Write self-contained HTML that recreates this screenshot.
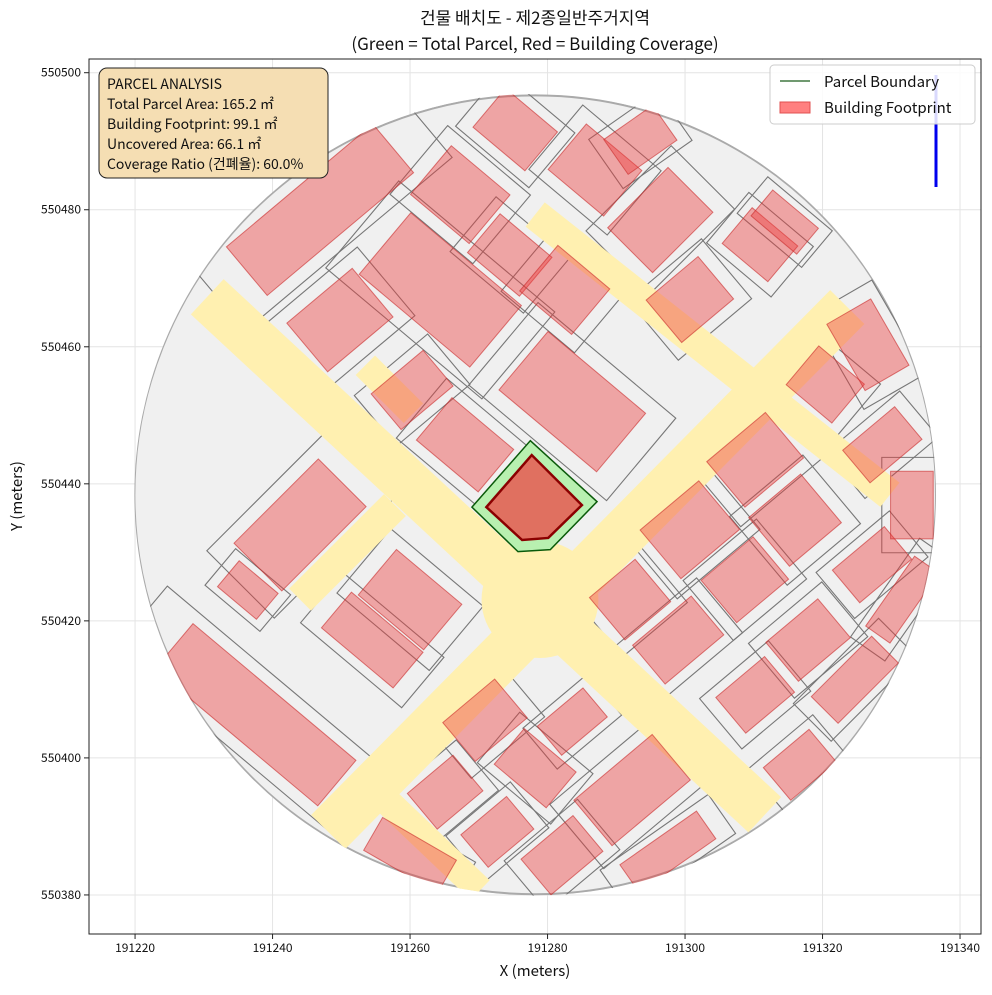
<!DOCTYPE html>
<html><head><meta charset="utf-8"><style>
body{margin:0;background:#fff;font-family:"Noto Sans CJK KR","Liberation Sans",sans-serif;}
svg text{font-family:"Noto Sans CJK KR","Liberation Sans",sans-serif;}
</style></head><body>
<svg id="c" width="992" height="990" xmlns="http://www.w3.org/2000/svg">
<defs><clipPath id="cc"><circle id="cc-c" cx="0" cy="0" r="0"/></clipPath></defs>
<rect x="0" y="0" width="992" height="990" fill="#fff"/>
<text x="535" y="24" text-anchor="middle" font-size="17" fill="#111">건물 배치도 - 제2종일반주거지역</text>
<text x="535" y="50" text-anchor="middle" font-size="17" fill="#111">(Green = Total Parcel, Red = Building Coverage)</text>
<g id="grid"></g><g id="site" clip-path="url(#cc)"></g><g id="center"></g>
<rect x="89" y="59" width="892" height="875" fill="none" stroke="#222" stroke-width="1"/>
<g id="ticks"></g>
<text x="535" y="976" text-anchor="middle" font-size="15" fill="#111">X (meters)</text>
<text transform="translate(22,496) rotate(-90)" text-anchor="middle" font-size="15" fill="#111">Y (meters)</text>
<line x1="936" y1="75" x2="936" y2="187" stroke="#0000ee" stroke-width="3"/>
<g>
<rect x="770" y="65" width="205" height="59" rx="4" fill="#fff" fill-opacity="0.85" stroke="#ccc"/>
<line x1="780" y1="81" x2="810" y2="81" stroke="#1a5c1a" stroke-width="1.3"/>
<text x="824" y="87" font-size="15" fill="#111">Parcel Boundary</text>
<rect x="780" y="102" width="30" height="11" fill="#ff8080" stroke="#e05050"/>
<text x="824" y="113" font-size="15" fill="#111">Building Footprint</text>
</g>
<g>
<rect x="99" y="68" width="229" height="110" rx="8" fill="#f5deb3" stroke="#222" stroke-width="1"/>
<text x="107" y="89" font-size="14" fill="#111">PARCEL ANALYSIS</text>
<text x="107" y="109" font-size="14" fill="#111">Total Parcel Area: 165.2 ㎡</text>
<text x="107" y="129" font-size="14" fill="#111">Building Footprint: 99.1 ㎡</text>
<text x="107" y="149" font-size="14" fill="#111">Uncovered Area: 66.1 ㎡</text>
<text x="107" y="169" font-size="14" fill="#111">Coverage Ratio (건폐율): 60.0%</text>
</g>
</svg>
<script>
const xTicks=[191220,191240,191260,191280,191300,191320,191340];
const yTicks=[550380,550400,550420,550440,550460,550480,550500];
const siteCircle=[191278.2,550438.4,58.3];
// roads: x1,y1,x2,y2,width (m)
const roads=[[191230.5,550467.3,191311.6,550391.7,7],[191323.6,550465.8,191248.1,550389.2,7],[191278.2,550479.3,191329.8,550438.4,4.5],[191253.5,550457.3,191260.5,550450.3,4],[191244.0,550423.1,191257.8,550436.9,4.5],[191256.4,550393.9,191270.2,550380.7,4]];
const plaza=[191278.9,550423.1,8.5];
// buildings: cx,cy,w,h,angle
const buildings=[[191246.9,550480.0,32.7,10.9,-40],[191249.8,550463.9,14.6,10.9,-40],[191264.4,550468.3,24.7,13.8,40],[191267.3,550482.2,13.1,10.9,40],[191274.5,550473.4,11.6,8.7,40],[191275.3,550491.7,11.6,8.7,40],[191286.9,550485.8,12.4,10.2,40],[191296.4,550478.5,14.6,10.9,-45],[191293.5,550490.2,10.2,7.3,-35],[191282.5,550468.3,11.6,10.2,40],[191300.7,550466.9,11.6,9.5,-40],[191310.9,550474.9,10.2,8,40],[191314.5,550478.2,10.2,5.8,40],[191283.6,550452.0,21.8,13.1,40],[191260.3,550453.7,11.6,8,-40],[191268.0,550445.7,13.8,9.5,40],[191244.0,550434.0,20.4,11.6,-45],[191236.4,550424.5,8.7,5.8,40],[191260.0,550423.1,14.6,10.2,40],[191254.5,550417.2,16,8,40],[191237.5,550406.3,36.4,10.2,40],[191270.9,550405.5,11.6,8.7,-40],[191283.6,550405.3,10.2,6.5,-40],[191278.2,550398.5,11.6,8,40],[191265.1,550395.0,10.2,8,-40],[191272.7,550389.2,10.2,7.3,-40],[191282.1,550385.8,11.6,8,-40],[191260.0,550385.8,14.6,6.5,30],[191292.3,550395.3,17.5,10.2,-40],[191297.5,550386.3,16,5.8,-35],[191292.0,550423.1,10.2,9.5,-40],[191299.0,550417.2,13.1,8.7,-40],[191300.7,550433.3,13.1,10.9,-40],[191310.2,550443.5,13.1,10.2,-40],[191316.0,550434.7,11.6,10.9,-40],[191308.7,550426.0,11.6,9.5,-40],[191310.2,550409.2,10.9,8,-40],[191317.9,550417.2,11.6,8.7,-40],[191316.7,550399.0,10.2,7.3,-40],[191324.7,550411.4,14.6,6.5,-45],[191327.2,550428.2,11.6,7.3,-40],[191320.4,550454.5,10.2,8.7,40],[191328.7,550445.7,11.6,7.3,-40],[191326.6,550460.3,13.1,8.7,60],[191333.0,550436.9,7.3,11.6,0],[191331.6,550423.1,14.6,5.1,-55]];
const parcelX=[191269.0,191277.5,191287.2,191280.4,191275.7];
const parcelY=[550436.6,550446.3,550437.4,550430.4,550430.1];
const footX=[191271.1,191277.7,191285.0,191280.1,191276.3];
const footY=[550436.6,550444.2,550436.9,550432.1,550431.8];

const X0=191213.3,X1=191343.05,Y0=550374.3,Y1=550502.0;
const PT=59,PB=934;
const sx=v=>89+(v-X0)/(X1-X0)*892, sy=v=>PB-(v-Y0)/(Y1-Y0)*(PB-PT);
const kx=892/(X1-X0), ky=(PB-PT)/(Y1-Y0);
const BS=0.85, LS=1.2;
const NS='http://www.w3.org/2000/svg';
function mk(tag,parent,attrs){const e=document.createElementNS(NS,tag);for(const k in attrs)e.setAttribute(k,attrs[k]);document.getElementById(parent).appendChild(e);return e;}
xTicks.forEach(t=>{const x=sx(t);
 let g=mk('line','grid',{x1:x,y1:PT,x2:x,y2:PB,stroke:'#e4e4e4','stroke-width':1});
 
 
 let l=mk('line','ticks',{x1:x,y1:PB,x2:x,y2:PB+5,stroke:'#222'});
 
 
 let tx=mk('text','ticks',{x:x,y:952,'text-anchor':'middle','font-size':12,fill:'#111'});tx.textContent=t;
 
 });
yTicks.forEach(t=>{const y=sy(t);
 let g=mk('line','grid',{x1:89,y1:y,x2:981,y2:y,stroke:'#e4e4e4','stroke-width':1});
 
 
 let l=mk('line','ticks',{x1:84,y1:y,x2:89,y2:y,stroke:'#222'});
 
 
 let tx=mk('text','ticks',{x:81,y:y+4,'text-anchor':'end','font-size':12,fill:'#111'});tx.textContent=t;
 
 });
const cc=document.getElementById('cc-c');
cc.setAttribute('cx',sx(siteCircle[0]));cc.setAttribute('cy',sy(siteCircle[1]));cc.setAttribute('r',siteCircle[2]*kx);
let bg=mk('ellipse','site',{cx:sx(siteCircle[0]),cy:sy(siteCircle[1]),rx:siteCircle[2]*kx,ry:siteCircle[2]*ky,fill:'#f0f0f0',stroke:'#aaa','stroke-width':2});


function rectPts(b,s){const cx=sx(b[0]),cy=sy(b[1]),w=b[2]*kx*s,h=b[3]*ky*s,a=b[4]*Math.PI/180,c=Math.cos(a),sn=Math.sin(a);
 return [[-w/2,-h/2],[w/2,-h/2],[w/2,h/2],[-w/2,h/2]].map(p=>(cx+p[0]*c-p[1]*sn)+','+(cy+p[0]*sn+p[1]*c)).join(' ');}
buildings.forEach(b=>{let p=mk('polygon','site',{points:rectPts(b,LS),fill:'none',stroke:'#777','stroke-width':1.1});
 
 });
roads.forEach(r=>{const x1=sx(r[0]),y1=sy(r[1]),x2=sx(r[2]),y2=sy(r[3]);
 let l=mk('line','site',{x1,y1,x2,y2,stroke:'#fff0b0','stroke-width':r[4]*kx,'stroke-linecap':'butt'});
 
 });
let pz=mk('circle','site',{cx:sx(plaza[0]),cy:sy(plaza[1]),r:plaza[2]*kx,fill:'#fff0b0'});


buildings.forEach(b=>{let p=mk('polygon','site',{points:rectPts(b,BS),fill:'rgba(235,60,60,0.42)',stroke:'rgba(200,40,40,0.6)','stroke-width':1});
 
 });
let pg=mk('polygon','center',{points:parcelX.map((x,i)=>sx(x)+','+sy(parcelY[i])).join(' '),fill:'#b8f0b0',stroke:'#0a5a0a','stroke-width':1.5});


let fp=mk('polygon','center',{points:footX.map((x,i)=>sx(x)+','+sy(footY[i])).join(' '),fill:'#e07060',stroke:'#8b0000','stroke-width':2.5});


</script>
</body></html>
